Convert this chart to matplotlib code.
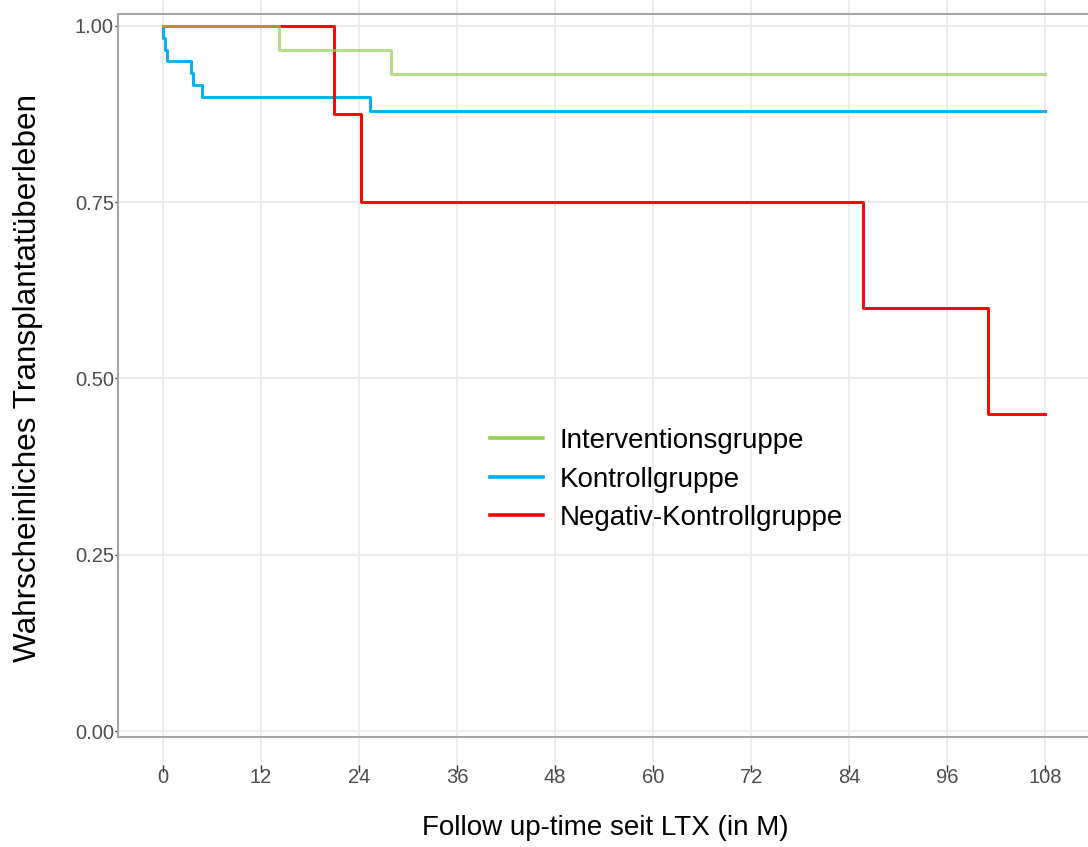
import matplotlib
matplotlib.use('Agg')
import matplotlib.pyplot as plt
from matplotlib.lines import Line2D

plt.rcParams['font.family'] = ['Liberation Sans', 'DejaVu Sans']

# Kaplan-Meier Daten (Monate, Überlebenswahrscheinlichkeit)
zeit_interv = [0, 14.2, 27.9, 108]
surv_interv = [1.0, 0.966, 0.932, 0.932]

zeit_kontr = [0, 0.05, 0.2, 0.45, 3.4, 3.7, 4.8, 25.3, 108]
surv_kontr = [1.0, 0.983, 0.966, 0.950, 0.933, 0.916, 0.899, 0.879, 0.879]

zeit_neg = [0, 21.0, 24.2, 85.7, 101.0, 108]
surv_neg = [1.0, 0.875, 0.75, 0.60, 0.45, 0.45]

gruppen = ['Interventionsgruppe', 'Kontrollgruppe', 'Negativ-Kontrollgruppe']
farben = ['#92D050', '#00B0F0', '#FF0000']

x_ticks = [0, 12, 24, 36, 48, 60, 72, 84, 96, 108]
y_ticks = [0.0, 0.25, 0.50, 0.75, 1.00]

fig = plt.figure(figsize=(10.88, 8.47), dpi=100)
ax = fig.add_axes([118 / 1088, 1 - 737 / 847, 970 / 1088, 723 / 847])

ax.plot(zeit_kontr, surv_kontr, drawstyle='steps-post', color=farben[1], lw=2.1, zorder=3)
ax.plot(zeit_neg, surv_neg, drawstyle='steps-post', color=farben[2], lw=2.1, zorder=4)
ax.plot(zeit_interv, surv_interv, drawstyle='steps-post', color=farben[0], lw=2.1, alpha=0.7, zorder=5)

ax.set_xlim(-5.51, 113.27)
ax.set_ylim(-0.0085, 1.017)

ax.set_xticks(x_ticks)
ax.set_xticklabels([str(t) for t in x_ticks])
ax.set_yticks(y_ticks)
ax.set_yticklabels(['%.2f' % t for t in y_ticks])

# Gitter
ax.yaxis.grid(True, color='#ebebeb', lw=1.3, zorder=0)
ax.set_axisbelow(True)
ax.vlines(x_ticks, -0.0415, 1.019, transform=ax.get_xaxis_transform(),
          color='#ebebeb', lw=1.3, clip_on=False, zorder=0)

# Achsenlinien
grau = '#a6a6a6'
ax.spines['right'].set_visible(False)
ax.spines['top'].set_color(grau)
ax.spines['top'].set_linewidth(1.5)
ax.spines['left'].set_color(grau)
ax.spines['left'].set_linewidth(1.5)
ax.spines['bottom'].set_position(('outward', 20))
ax.spines['bottom'].set_color('none')
ax.axhline(-0.0085, color=grau, lw=1.5, clip_on=False, zorder=6)

ax.tick_params(axis='x', length=5, width=1, color='#333333', pad=-2.5,
               labelsize=14.5, labelcolor='#4d4d4d')
ax.tick_params(axis='y', length=2.5, width=1, color='#333333', pad=0.5,
               labelsize=14.5, labelcolor='#4d4d4d')

fig.text(28 / 1088, 1 - 378 / 847, 'Wahrscheinliches Transplantatüberleben',
         rotation=90, ha='center', va='center', fontsize=22.7)
fig.text(605 / 1088, 1 - 828 / 847, 'Follow up-time seit LTX (in M)',
         ha='center', va='center', fontsize=20)

handles = [Line2D([0], [0], color=c, lw=2.6) for c in farben]
ax.legend(handles, gruppen, loc='upper left', bbox_to_anchor=(490 / 1088, 1 - 428 / 847),
          bbox_transform=fig.transFigure, frameon=False, fontsize=20,
          borderpad=0, borderaxespad=0, handlelength=1.9, handletextpad=0.6,
          labelspacing=0.45)

fig.savefig('out.png', dpi=100)
